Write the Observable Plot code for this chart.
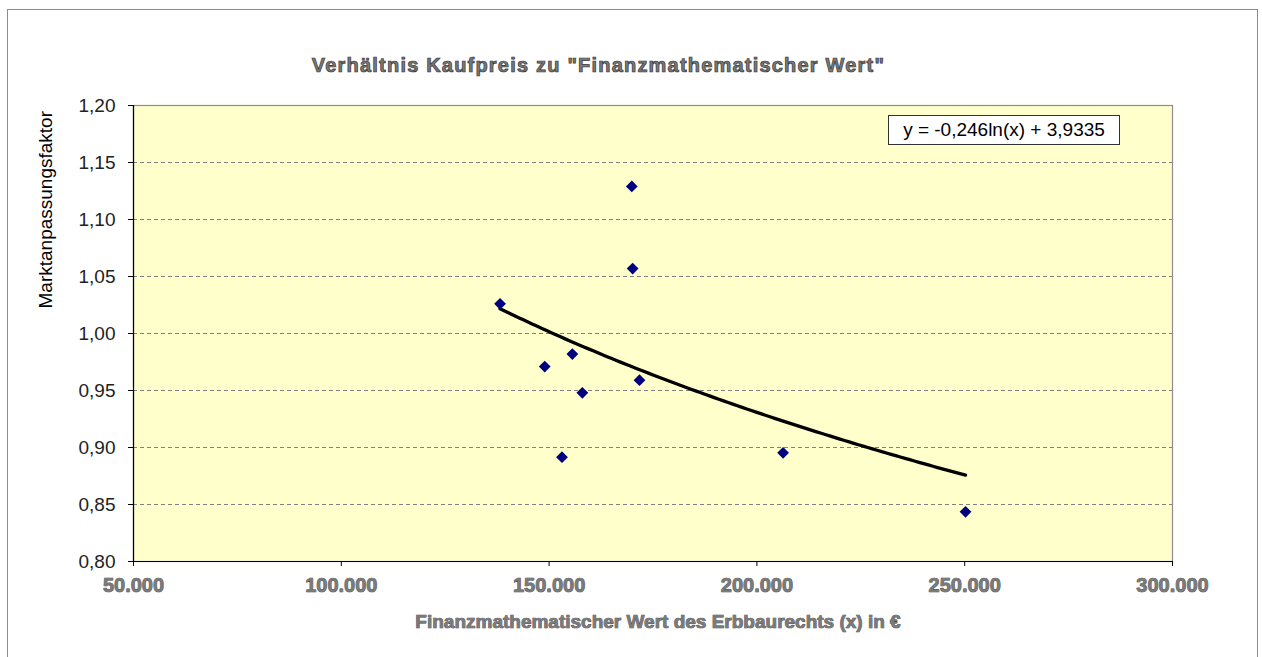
<!DOCTYPE html>
<html>
<head>
<meta charset="utf-8">
<script src="https://cdn.jsdelivr.net/npm/d3@7"></script>
<script src="https://cdn.jsdelivr.net/npm/@observablehq/plot@0.6"></script>
<style>
  body { margin: 0; background: #fff; font-family: Arial, "Liberation Sans", sans-serif; }
  #wrap { position: relative; width: 1262px; height: 657px; overflow: hidden; background: #fff; }
  #frame { position: absolute; left: 7px; top: 9px; width: 1251px; height: 700px; border: 1px solid #8c8c8c; box-sizing: border-box; }
  #title { position: relative; height: 85px; }
  #title span { position: absolute; left: 0; width: 1197px; top: 53px; line-height: 24px; text-align: center;
    font-weight: bold; font-size: 20px; letter-spacing: 1.2px; color: #7a7a7a; -webkit-text-stroke: 0.7px #333; }
  #chart { position: relative; }
  #eq { position: absolute; left: 888px; top: 115px; width: 232px; height: 30px; box-sizing: border-box;
    border: 1px solid #333; background: #fff; font-size: 19px; line-height: 28px; text-align: center; color: #000; }
</style>
</head>
<body>
<div id="wrap">
  <div id="frame"></div>
  <div id="title"><span></span></div>
  <div id="chart"></div>
  <div id="eq"></div>
</div>
<script>
// ---- data ----
const titleText = 'Verhältnis Kaufpreis zu "Finanzmathematischer Wert"';
const xLabel = "Finanzmathematischer Wert des Erbbaurechts (x) in €";
const yLabel = "Marktanpassungsfaktor";
const xValues = [138200, 148950, 153100, 155600, 158000, 169900, 170100, 171750, 206300, 250200];
const yValues = [1.026, 0.971, 0.8915, 0.982, 0.948, 1.129, 1.057, 0.959, 0.8953, 0.8436];
const xTicks = [50000, 100000, 150000, 200000, 250000, 300000];
const yTicks = [0.80, 0.85, 0.90, 0.95, 1.00, 1.05, 1.10, 1.15, 1.20];
const gridLevels = [0.85, 0.90, 0.95, 1.00, 1.05, 1.10, 1.15];
const trendSlope = -0.246;
const trendIntercept = 3.9335;
const trendLabel = "y = -0,246ln(x) + 3,9335";

// ---- build ----
document.querySelector("#title span").textContent = titleText;
document.getElementById("eq").textContent = trendLabel;

const points = xValues.map((x, i) => ({x, y: yValues[i]}));
const [xMin, xMax] = d3.extent(xValues);
const trend = d3.range(0, 101).map(i => {
  const x = xMin + (xMax - xMin) * i / 100;
  return {x, y: trendSlope * Math.log(x) + trendIntercept};
});

const de = d3.formatLocale({decimal: ",", thousands: ".", grouping: [3], currency: ["", " €"]});
const fmtX = de.format(",");
const fmtY = de.format(".2f");
const outlined = {fill: "#7a7a7a", stroke: "#333", strokeWidth: 0.7, fontWeight: "bold"};

const chart = Plot.plot({
  width: 1262,
  height: 572,
  marginLeft: 133,
  marginRight: 90,
  marginTop: 20,
  marginBottom: 96,
  style: {fontFamily: "Arial, 'Liberation Sans', sans-serif", fontSize: "19px", background: "transparent", color: "#000"},
  x: {domain: [50000, 300000]},
  y: {domain: [0.8, 1.2]},
  marks: [
    Plot.frame({fill: "#FFFFCC", stroke: "none"}),
    Plot.ruleY(gridLevels, {stroke: "#808080", strokeWidth: 1.2, strokeDasharray: "4,3"}),
    Plot.frame({stroke: "#8c8c8c", strokeWidth: 1.2}),
    Plot.ruleX([50000], {stroke: "#000", strokeWidth: 1.2}),
    Plot.ruleY([0.8], {stroke: "#000", strokeWidth: 1.2}),
    Plot.axisX({ticks: xTicks, tickSize: 5, tickFormat: () => "", stroke: "#000", label: null}),
    Plot.text(xTicks, {x: d => d, text: fmtX, frameAnchor: "bottom", lineAnchor: "middle", dy: 24,
      fontSize: 20, letterSpacing: 1.5, ...outlined}),
    Plot.text([xLabel], {frameAnchor: "bottom", lineAnchor: "middle", dx: 5, dy: 60,
      fontSize: 19, letterSpacing: 0.5, ...outlined}),
    Plot.axisY({ticks: yTicks, tickFormat: fmtY, tickSize: 5, tickPadding: 13, stroke: "#000",
      fill: "#222", label: null}),
    Plot.text([yLabel], {frameAnchor: "left", lineAnchor: "middle", rotate: -90, dx: -88, dy: -25,
      fontSize: 19, fill: "#000"}),
    Plot.line(trend, {x: "x", y: "y", stroke: "#000", strokeWidth: 3.3}),
    Plot.dot(points, {x: "x", y: "y", symbol: "diamond2", r: 5.3, fill: "#000080", stroke: "none"})
  ]
});
document.getElementById("chart").appendChild(chart);
</script>
</body>
</html>
